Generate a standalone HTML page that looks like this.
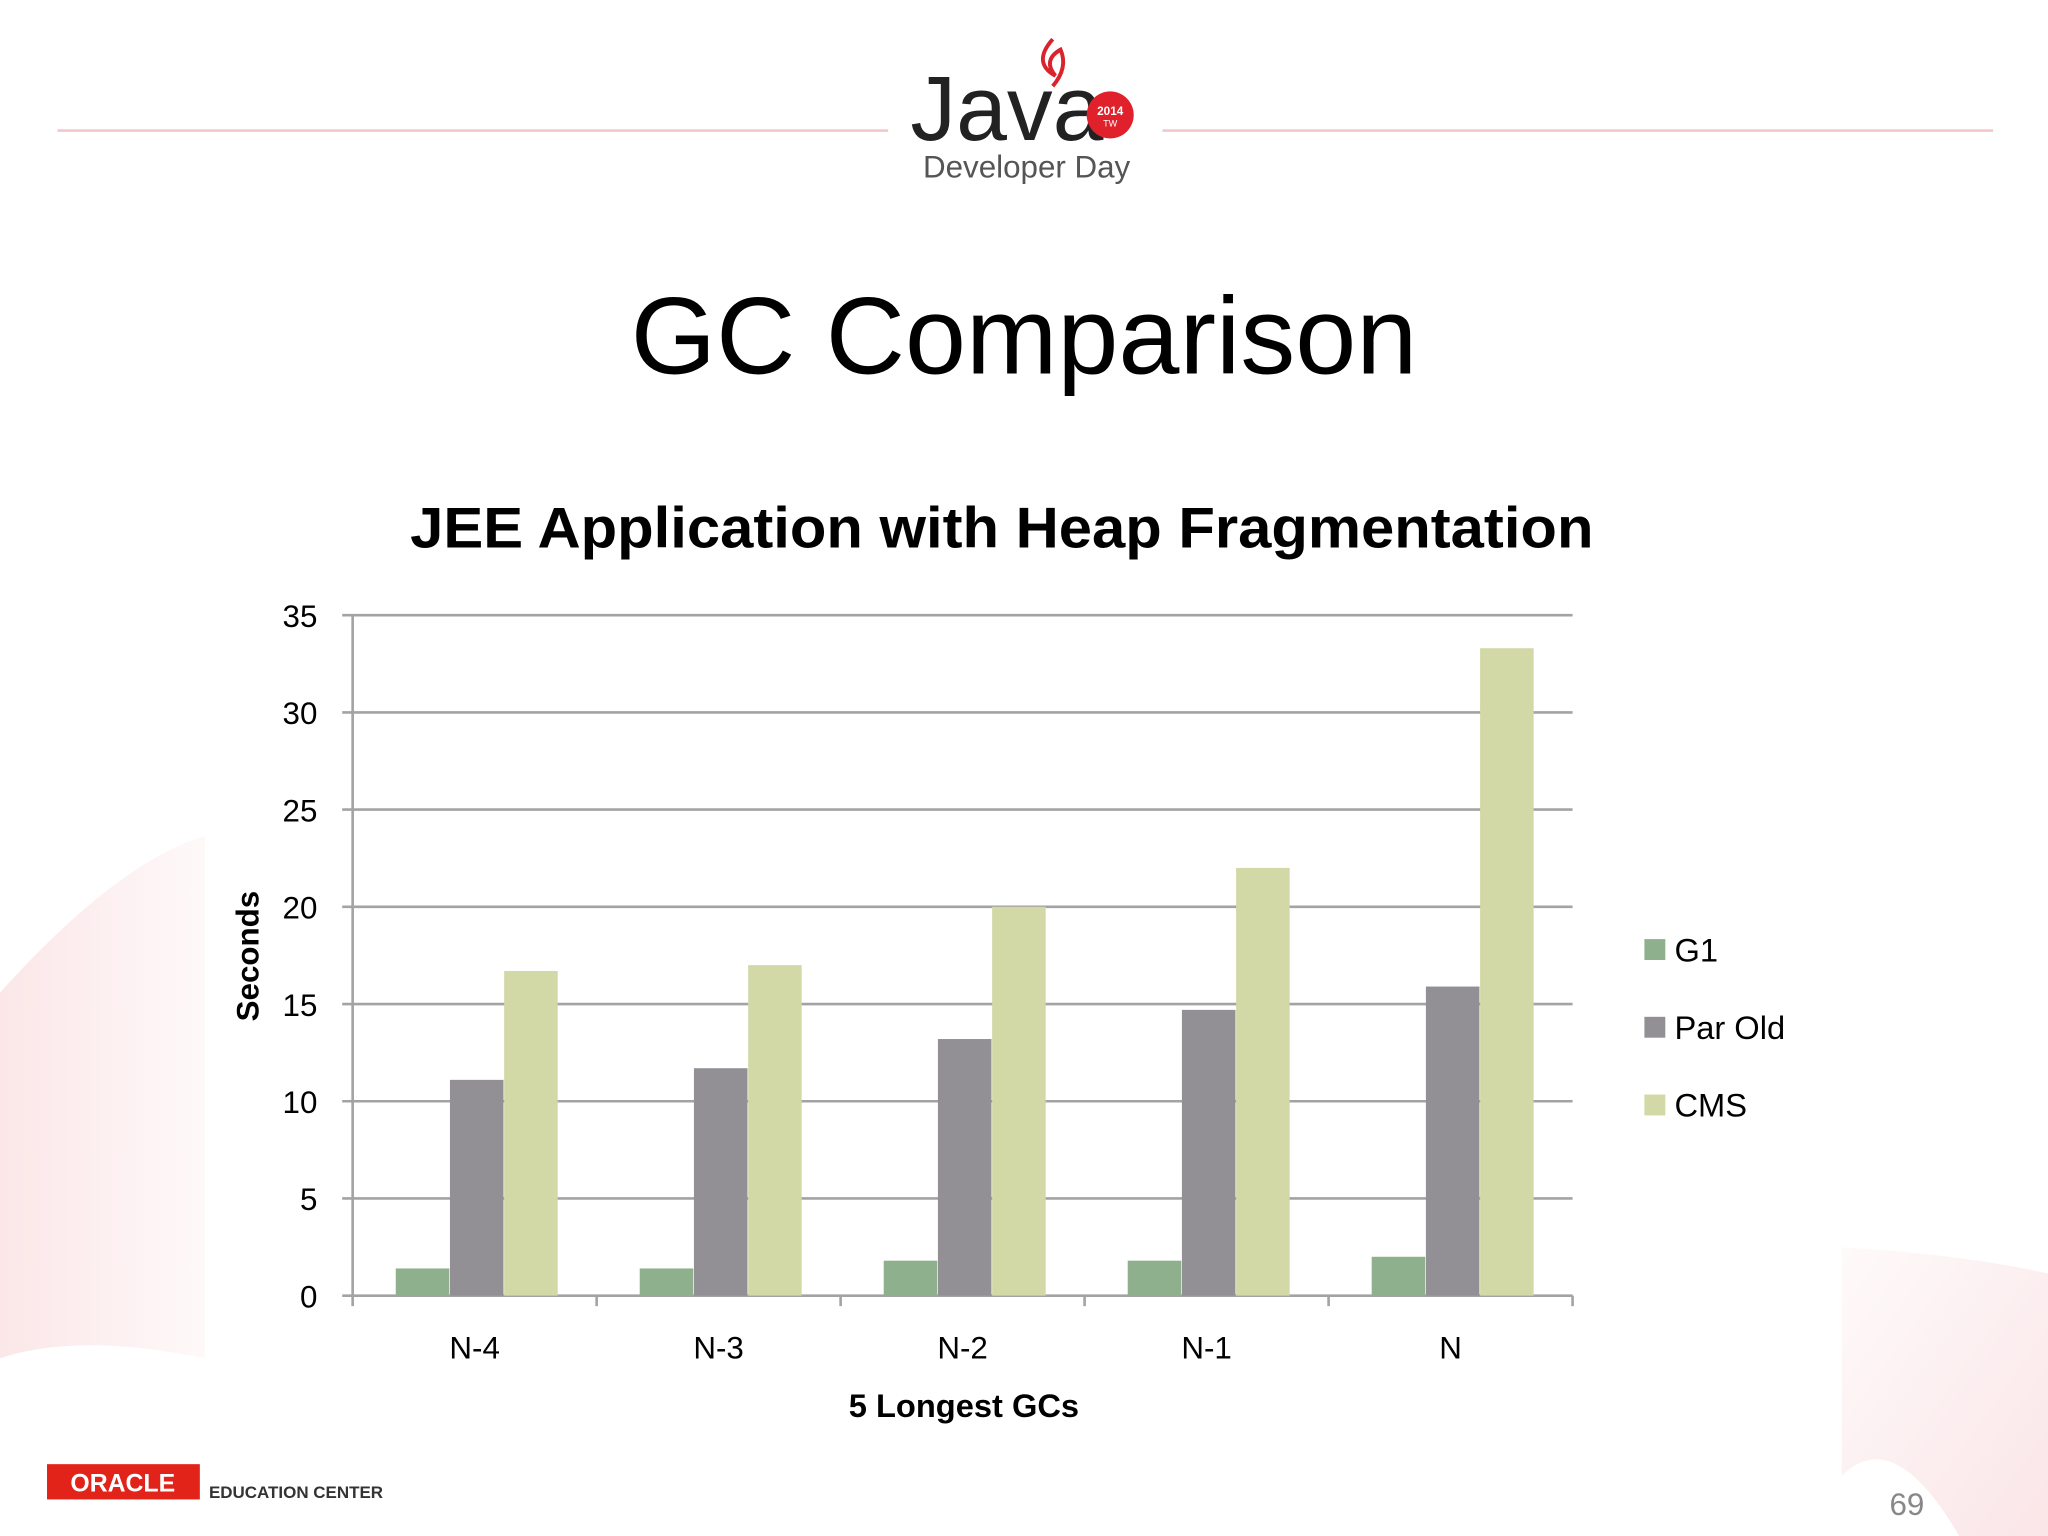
<!DOCTYPE html>
<html><head><meta charset="utf-8"><style>
html,body{margin:0;padding:0;background:#fff;}
svg{display:block;font-family:"Liberation Sans",sans-serif;}
</style></head><body>
<svg id="chart" width="2048" height="1536" viewBox="0 0 1568 1176" xmlns="http://www.w3.org/2000/svg">
<defs>
<linearGradient id="pinkL" x1="0" y1="0" x2="1" y2="0"><stop offset="0" stop-color="#f6c9cc"/><stop offset="1" stop-color="#fdf1f2"/></linearGradient>
<linearGradient id="pinkR" x1="0" y1="0" x2="1" y2="1"><stop offset="0" stop-color="#fdf3f4"/><stop offset="1" stop-color="#f5c6ca"/></linearGradient>
</defs>
<rect width="1568" height="1176" fill="#fff"/>
<path d="M0,760 Q90,660 157,640 L157,1040 Q60,1020 0,1040 Z" fill="url(#pinkL)" opacity="0.45"/>
<path d="M1410,955 Q1500,960 1568,975 L1568,1176 L1500,1176 Q1450,1090 1410,1130 Z" fill="url(#pinkR)" opacity="0.45"/>
<rect x="157" y="340" width="1253" height="790" fill="#fff"/>
<line x1="44" y1="100" x2="680" y2="100" stroke="#f3c6ca" stroke-width="2"/>
<line x1="890" y1="100" x2="1526" y2="100" stroke="#f3c6ca" stroke-width="2"/>
<text x="697" y="107" font-size="70" fill="#222">Java</text>
<circle cx="850" cy="88" r="18" fill="#e0202a"/>
<text x="850" y="88" font-size="9" fill="#fff" text-anchor="middle" font-weight="bold">2014</text>
<text x="850" y="97" font-size="7" fill="#fff" text-anchor="middle">TW</text>
<path d="M806,30 Q790,48 808,58 Q798,46 812,38 Q818,52 806,66" fill="none" stroke="#d9232d" stroke-width="3"/>
<text x="786" y="136" font-size="24" fill="#555" text-anchor="middle">Developer Day</text>
<text x="784" y="286" font-size="84" fill="#000" text-anchor="middle">GC Comparison</text>
<text x="767" y="419" font-size="44" font-weight="bold" fill="#000" text-anchor="middle" textLength="906" lengthAdjust="spacingAndGlyphs">JEE Application with Heap Fragmentation</text>
<g id="plot"></g>
<text transform="translate(198,732) rotate(-90)" font-size="24" font-weight="bold" text-anchor="middle">Seconds</text>
<text x="738" y="1085" font-size="25" font-weight="bold" text-anchor="middle">5 Longest GCs</text>
<g id="legend"></g>
<rect x="36" y="1121" width="117" height="27" fill="#e2231a"/>
<text x="94" y="1142" font-size="19" fill="#fff" text-anchor="middle" font-weight="bold">ORACLE</text>
<text x="160" y="1147" font-size="13" font-weight="bold" fill="#333">EDUCATION CENTER</text>
<text x="1460" y="1160" font-size="24" fill="#888" text-anchor="middle">69</text>
</svg>
<script>
const categories = ["N-4","N-3","N-2","N-1","N"];
const seriesNames = ["G1","Par Old","CMS"];
const g1Values = [1.4,1.4,1.8,1.8,2.0];
const parOldValues = [11.1,11.7,13.2,14.7,15.9];
const cmsValues = [16.7,17.0,20.0,22.0,33.3];
const yTicks = [0,5,10,15,20,25,30,35];
const colors = ["#8fb08c","#929095","#d2d8a6"];
const NS="http://www.w3.org/2000/svg";
const L=270,R=1204,Y0=992,Y35=471,yMax=35;
const y=v=>Y0-(v/yMax)*(Y0-Y35);
const gw=(R-L)/categories.length;
const x=i=>L+i*gw;
const plot=document.getElementById('plot');
function mk(tag,attrs,parent){const e=document.createElementNS(NS,tag);for(const k in attrs)e.setAttribute(k,attrs[k]);(parent||plot).appendChild(e);return e;}
yTicks.forEach(t=>{
  const ln=mk('line',{x1:L-8,x2:R,y1:y(t),y2:y(t),stroke:'#a3a3a3','stroke-width':2});
  
  
  const tx=mk('text',{x:243,y:y(t)+9,'font-size':24,'text-anchor':'end'});
  tx.textContent=t;
  
  
});
const ax=mk('line',{x1:L,x2:L,y1:Y35,y2:Y0,stroke:'#a3a3a3','stroke-width':2});


for(let i=0;i<=categories.length;i++){
  const tk=mk('line',{x1:x(i),x2:x(i),y1:Y0,y2:Y0+8,stroke:'#a3a3a3','stroke-width':2});
  
  
}
const all=[g1Values,parOldValues,cmsValues];
const bw=41.5;
categories.forEach((c,i)=>{
  all.forEach((vals,s)=>{
    const bx=x(i)+33+s*bw;
    const r=mk('rect',{x:bx,y:y(vals[i]),width:bw-0.5,height:Y0-y(vals[i]),fill:colors[s]});
    
    
  });
  const t=mk('text',{x:x(i)+gw/2,y:1040,'font-size':24,'text-anchor':'middle'});
  t.textContent=c;
  
  
});
const leg=document.getElementById('legend');
seriesNames.forEach((n,s)=>{
  const yy=719+s*59.5;
  const r=mk('rect',{x:1259,y:yy,width:16,height:16,fill:colors[s]},leg);
  
  
  const t=mk('text',{x:1282,y:yy+17,'font-size':25},leg);
  t.textContent=n;
  
  
});
</script>
</body></html>
